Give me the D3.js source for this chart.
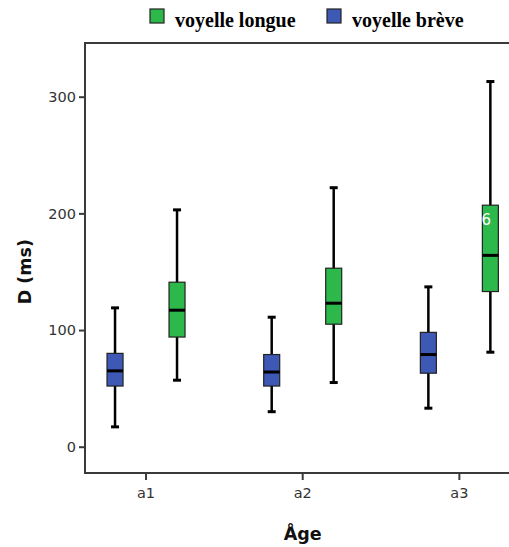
<!DOCTYPE html>
<html>
<head>
<meta charset="utf-8">
<script src="https://cdn.jsdelivr.net/npm/d3@7"></script>
<style>
  html, body { margin: 0; padding: 0; background: #fff; }
  svg { display: block; }
</style>
</head>
<body>
<svg id="chart" width="509" height="547"></svg>
<script>
// Age groups on the x axis
const ages = ["a1", "a2", "a3"];
// Vowel types, drawn left (short) then right (long) in each group
const vowelTypes = ["voyelle brève", "voyelle longue"];
const legendOrder = ["voyelle longue", "voyelle brève"];
const yTicks = [0, 100, 200, 300];

// Box statistics per age group: [whisker low, Q1, median, Q3, whisker high] in ms
const breveStats = [
  [17, 52, 65, 80, 119],
  [30, 52, 64, 79, 111],
  [33, 63, 79, 98, 137]
];
const longueStats = [
  [57, 94, 117, 141, 203],
  [55, 105, 123, 153, 222],
  [81, 133, 164, 207, 313]
];
// Labelled extreme case shown inside the a3 long-vowel box
const caseLabels = [{ age: "a3", type: "voyelle longue", value: 190, label: "6" }];

const colors = { "voyelle brève": "#3d59b5", "voyelle longue": "#2db84b" };
const statsByType = { "voyelle brève": breveStats, "voyelle longue": longueStats };

const svg = d3.select("#chart");

const frame = { left: 85, top: 43, bottom: 473, right: 540 };

const y = d3.scaleLinear().domain([0, 300]).range([446.7, 96.7]);
const x = d3.scaleBand().domain(ages).range([67.7, 537.7]).padding(0);
const xSub = d3.scaleBand().domain(vowelTypes).range([-62, 62]).padding(0);
const boxW = 16;
const capW = 8;
const axisColor = "#3a3a3a";
const sans = "'DejaVu Sans', sans-serif";

// Frame
svg.append("path")
  .attr("d", `M${frame.right},${frame.top}H${frame.left}V${frame.bottom}H${frame.right}`)
  .attr("fill", "none").attr("stroke", axisColor).attr("stroke-width", 2);

// Y axis
const yAxis = svg.append("g")
  .attr("transform", `translate(${frame.left},0)`)
  .call(d3.axisLeft(y).tickValues(yTicks).tickSize(6).tickPadding(3).tickFormat(d3.format("d")));
yAxis.select(".domain").remove();
yAxis.selectAll(".tick line").attr("stroke", axisColor).attr("stroke-width", 2);
yAxis.selectAll(".tick text")
  .attr("font-family", sans).attr("font-size", 14.5).attr("fill", "#333");

// X axis
const xAxis = svg.append("g")
  .attr("transform", `translate(0,${frame.bottom})`)
  .call(d3.axisBottom(x).tickSize(7).tickPadding(8));
xAxis.select(".domain").remove();
xAxis.selectAll(".tick line").attr("stroke", axisColor).attr("stroke-width", 2);
xAxis.selectAll(".tick text")
  .attr("font-family", sans).attr("font-size", 14.5).attr("fill", "#333");

// Axis titles
svg.append("text")
  .attr("transform", `translate(31,${(y(0) + y(300)) / 2 + 0}) rotate(-90)`)
  .attr("text-anchor", "middle")
  .attr("font-family", sans).attr("font-weight", "bold").attr("font-size", 17.5)
  .attr("fill", "#111").text("D (ms)");
svg.append("text")
  .attr("x", x("a2") + x.bandwidth() / 2).attr("y", 540)
  .attr("text-anchor", "middle")
  .attr("font-family", sans).attr("font-weight", "bold").attr("font-size", 17.5)
  .attr("fill", "#111").text("Åge");

// Boxes
const boxes = [];
vowelTypes.forEach(t => {
  statsByType[t].forEach((s, i) => {
    boxes.push({ age: ages[i], type: t, lo: s[0], q1: s[1], med: s[2], q3: s[3], hi: s[4] });
  });
});
const cx = d => x(d.age) + x.bandwidth() / 2 + xSub(d.type) + xSub.bandwidth() / 2;

const g = svg.append("g").selectAll("g").data(boxes).join("g");
g.append("line")
  .attr("x1", cx).attr("x2", cx)
  .attr("y1", d => y(d.hi)).attr("y2", d => y(d.lo))
  .attr("stroke", "#000").attr("stroke-width", 2.5);
g.append("line").attr("x1", d => cx(d) - capW / 2).attr("x2", d => cx(d) + capW / 2)
  .attr("y1", d => y(d.hi)).attr("y2", d => y(d.hi))
  .attr("stroke", "#000").attr("stroke-width", 3);
g.append("line").attr("x1", d => cx(d) - capW / 2).attr("x2", d => cx(d) + capW / 2)
  .attr("y1", d => y(d.lo)).attr("y2", d => y(d.lo))
  .attr("stroke", "#000").attr("stroke-width", 3);
g.append("rect")
  .attr("x", d => cx(d) - boxW / 2).attr("width", boxW)
  .attr("y", d => y(d.q3)).attr("height", d => y(d.q1) - y(d.q3))
  .attr("fill", d => colors[d.type]).attr("stroke", "#222").attr("stroke-width", 1.2);
g.append("line").attr("x1", d => cx(d) - boxW / 2).attr("x2", d => cx(d) + boxW / 2)
  .attr("y1", d => y(d.med)).attr("y2", d => y(d.med))
  .attr("stroke", "#000").attr("stroke-width", 3);

// Case label
svg.append("g").selectAll("text").data(caseLabels).join("text")
  .attr("x", d => cx(d) - 4).attr("y", d => y(d.value))
  .attr("text-anchor", "middle")
  .attr("font-family", sans).attr("font-size", 15)
  .attr("fill", "#fff").text(d => d.label);

// Legend
const legendX = { "voyelle longue": 150, "voyelle brève": 327 };
const legend = svg.append("g").selectAll("g").data(legendOrder).join("g")
  .attr("transform", d => `translate(${legendX[d]},9)`);
legend.append("rect").attr("width", 14).attr("height", 14)
  .attr("fill", d => colors[d]).attr("stroke", "#222").attr("stroke-width", 1.2);
legend.append("text").attr("x", 25).attr("y", 18)
  .attr("font-family", "'Liberation Serif', 'Times New Roman', serif").attr("font-weight", "bold")
  .attr("font-size", 20).attr("fill", "#000").text(d => d);
</script>
</body>
</html>
